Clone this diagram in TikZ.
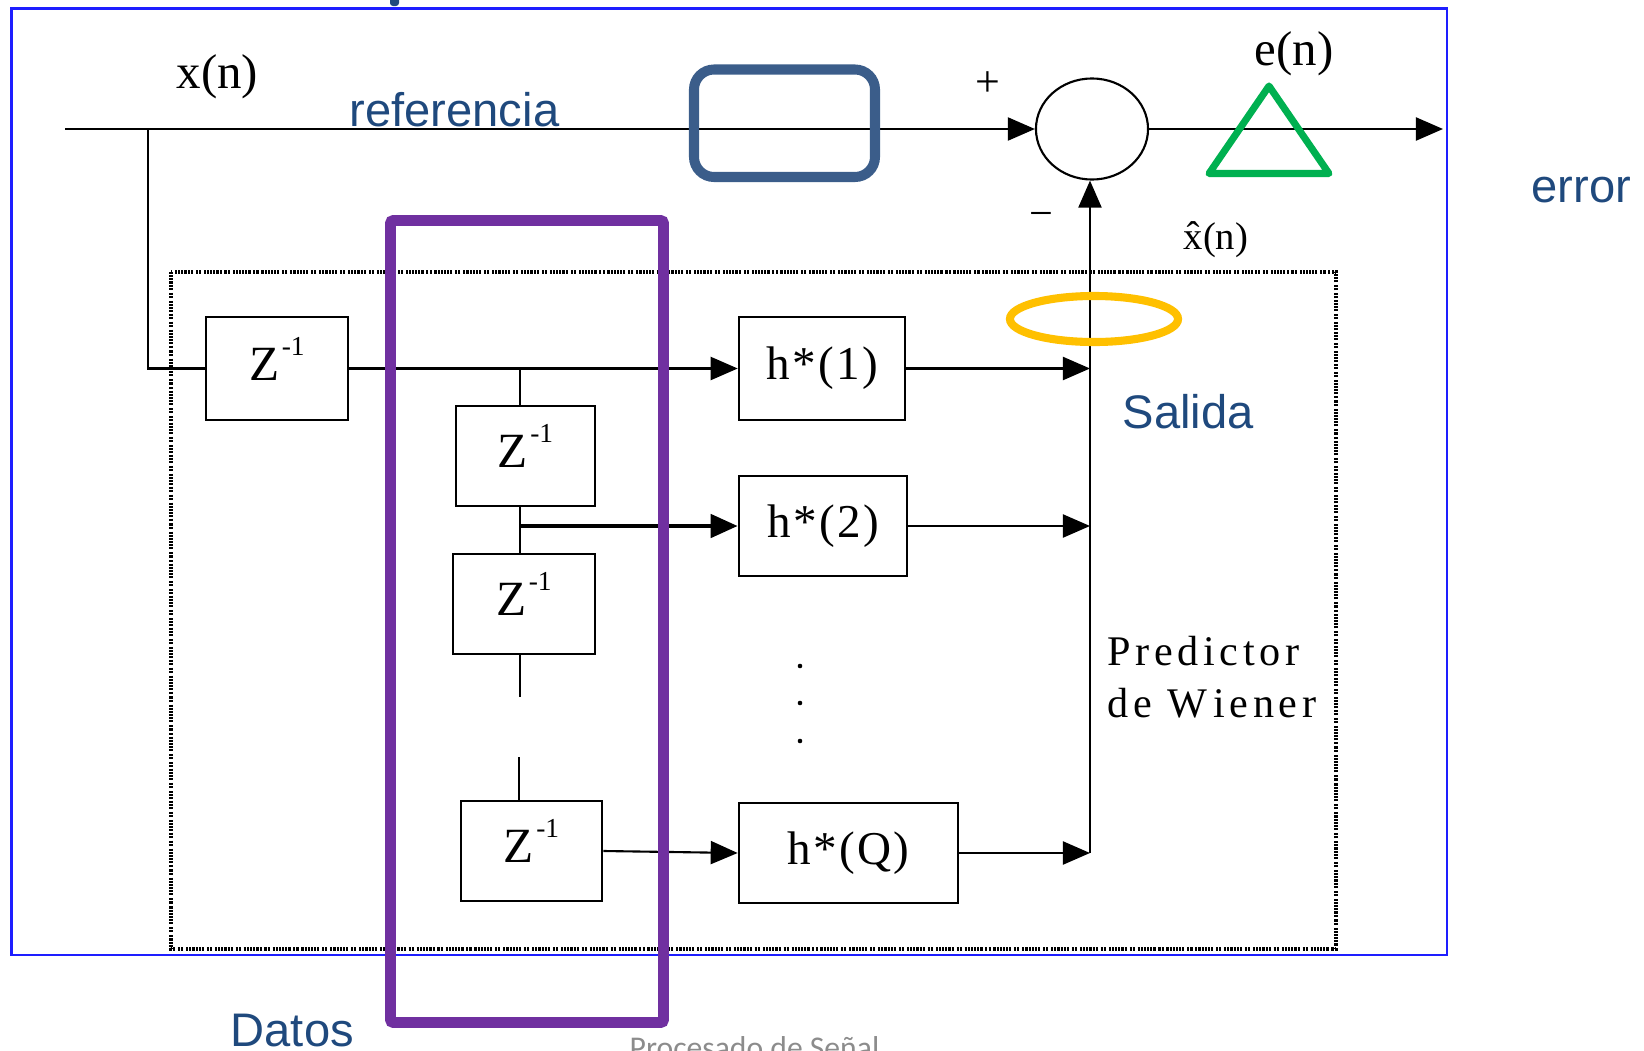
\documentclass[tikz,border=0pt]{standalone}
\usepackage{fontspec}
\setmainfont{Liberation Serif}
\newfontfamily\labelsans{Liberation Sans}
\newfontfamily\footsans{Carlito}
\usetikzlibrary{arrows.meta,shapes.geometric}

\definecolor{frameblue}{RGB}{30,30,255}
\definecolor{notegreen}{RGB}{0,176,80}
\definecolor{noteyellow}{RGB}{255,192,0}
\definecolor{notepurple}{RGB}{112,48,160}
\definecolor{noteblue}{RGB}{59,93,138}
\definecolor{labelblue}{RGB}{31,73,125}

% delay element label
\newcommand{\zinv}{Z\kern0.05em\raisebox{0.5em}{\fontsize{7.8pt}{8pt}\selectfont -1}}

\begin{document}
\begin{tikzpicture}[x=0.01cm,y=-0.01cm,
  wire/.style={line width=0.6pt},
  arrowline/.style={wire,-{Triangle[length=0.27cm,width=0.23cm]}},
  zblock/.style={draw,line width=0.7pt,inner sep=0pt,text height=0.36cm,text depth=0.13cm,
    font=\fontsize{14pt}{16pt}\selectfont},
  hblock/.style={draw,line width=0.7pt,inner sep=0pt,
    font=\fontsize{13.4pt}{16pt}\selectfont\addfontfeatures{LetterSpace=5}},
  serifbig/.style={anchor=base west,inner sep=0pt,font=\fontsize{13.9pt}{16pt}\selectfont},
  sanslabel/.style={anchor=base west,inner sep=0pt,text=labelblue,
    font=\labelsans\fontsize{13.4pt}{16pt}\selectfont},
  wienertext/.style={anchor=base west,inner sep=0pt,
    font=\fontsize{12pt}{14pt}\selectfont\addfontfeatures{LetterSpace=11}}]

\useasboundingbox (0,0) rectangle (1644,1051);

% outer frame
\draw[frameblue,line width=0.6pt] (11.5,8.5) rectangle (1447,955);

% predictor boundary
\draw[line width=1.05pt,dash pattern={on 0.6pt off 0.3pt on 0.6pt off 0.3pt on 0.6pt off 0.3pt on 0.6pt off 0.3pt on 0.6pt off 0.3pt on 0.6pt off 0.8pt on 0.6pt off 0.3pt on 0.6pt off 0.8pt}]
  (171,272) rectangle (1336,949);

% blocks
\node[zblock,minimum width=1.42cm,minimum height=1.03cm] (z1) at (277,368.5) {\zinv};
\node[zblock,minimum width=1.39cm,minimum height=1.00cm] (z2) at (525.5,456) {\zinv};
\node[zblock,minimum width=1.42cm,minimum height=1.00cm] (z3) at (524,604) {\zinv};
\node[zblock,minimum width=1.41cm,minimum height=1.00cm] (z4) at (531.5,851) {\zinv};
\node[hblock,minimum width=1.66cm,minimum height=1.03cm] (h1) at (822,368.5) {h*(1)};
\node[hblock,minimum width=1.68cm,minimum height=1.00cm] (h2) at (823,526) {h*(2)};
\node[hblock,minimum width=2.19cm,minimum height=1.00cm] (hq) at (848.5,853) {h*(Q)};
\node[draw,ellipse,wire,inner sep=0pt,minimum width=1.12cm,minimum height=1.01cm] (sum) at (1092,129) {};

% junctions and free ends
\coordinate (in) at (65,129);
\coordinate (j0) at (148,129);
\coordinate (out) at (1443,129);
\coordinate (t1) at (520,368);
\coordinate (t2) at (521,526);
\coordinate (gaptop) at (520,697);
\coordinate (gapbot) at (519,757);
\coordinate (busbot) at (1090,853);

% reference path
\draw[arrowline] (in) -- (sum.west);
\draw[arrowline] (sum.east) -- (out);

% tapped delay line
\draw[wire] (j0) |- (z1.west);
\draw[arrowline] (z1.east) -- (h1.west);
\draw[wire] (t1) -- (t1 |- z2.north);
\draw[wire] (t1 |- z2.south) -- (t1 |- z3.north);
\draw[line width=1.3pt,-{Triangle[length=0.27cm,width=0.23cm]}] (t2) -- (t2 -| h2.west);
\draw[wire] (t1 |- z3.south) -- (gaptop);
\draw[wire] (gapbot) -- (gapbot |- z4.north);
\draw[arrowline] (z4.east) -- (hq.west);

% summation bus
\draw[arrowline] (busbot) -- (busbot |- sum.south);
\draw[arrowline] (h1.east) -- (h1.east -| busbot);
\draw[arrowline] (h2.east) -- (h2.east -| busbot);
\draw[arrowline] (hq.east) -- (busbot);

% continuation dots
\fill (800,666) circle [radius=0.023cm];
\fill (800,703) circle [radius=0.023cm];
\fill (800,741) circle [radius=0.023cm];

% signal labels
\node[serifbig] (xn) at (176,88) {x(n)};
\node[serifbig] (en) at (1254,65) {e(n)};
\node[inner sep=0pt,font=\fontsize{12.5pt}{14pt}\selectfont] (plus) at (988,84) {+};
\node[inner sep=0pt,font=\fontsize{12pt}{14pt}\selectfont] (minus) at (1041,220) {−};
\node[anchor=base west,inner sep=0pt,font=\fontsize{11pt}{13pt}\selectfont] (xhat) at (1183,249) {\^{x}(n)};
\node[wienertext] (pred1) at (1107,665) {Predictor};
\node[wienertext] (pred2) at (1107,717) {de W\kern0.15em iener};

% annotation labels
\node[sanslabel] (ref) at (349,126) {referencia};
\node[sanslabel] (err) at (1531,202) {error};
\node[sanslabel] (sal) at (1122,428) {Salida};
\node[sanslabel] (dat) at (230,1046) {Datos};

% highlight marks
\draw[noteblue,line width=2.85pt,rounded corners=0.2cm] (694,69.5) rectangle (875,177);
\draw[notepurple,line width=3.1pt,rounded corners=0.03cm] (390.5,220.5) rectangle (663.5,1022.5);
\draw[noteyellow,line width=2.3pt] (1094,319) ellipse [x radius=0.84cm,y radius=0.23cm];
\draw[notegreen,line width=2pt,line join=round] (1269,86) -- (1209,173.5) -- (1329,173.5) -- cycle;

% page edge items
\begin{scope}
\clip (0,0) rectangle (1644,1051);
\fill[labelblue,rounded corners=0.03cm] (390,-8) rectangle (399,6);
\node[anchor=base west,inner sep=0pt,text=black!45,font=\footsans\fontsize{9pt}{11pt}\selectfont] (foot) at (629,1058) {Procesado de Señal};
\end{scope}
\end{tikzpicture}
\end{document}
